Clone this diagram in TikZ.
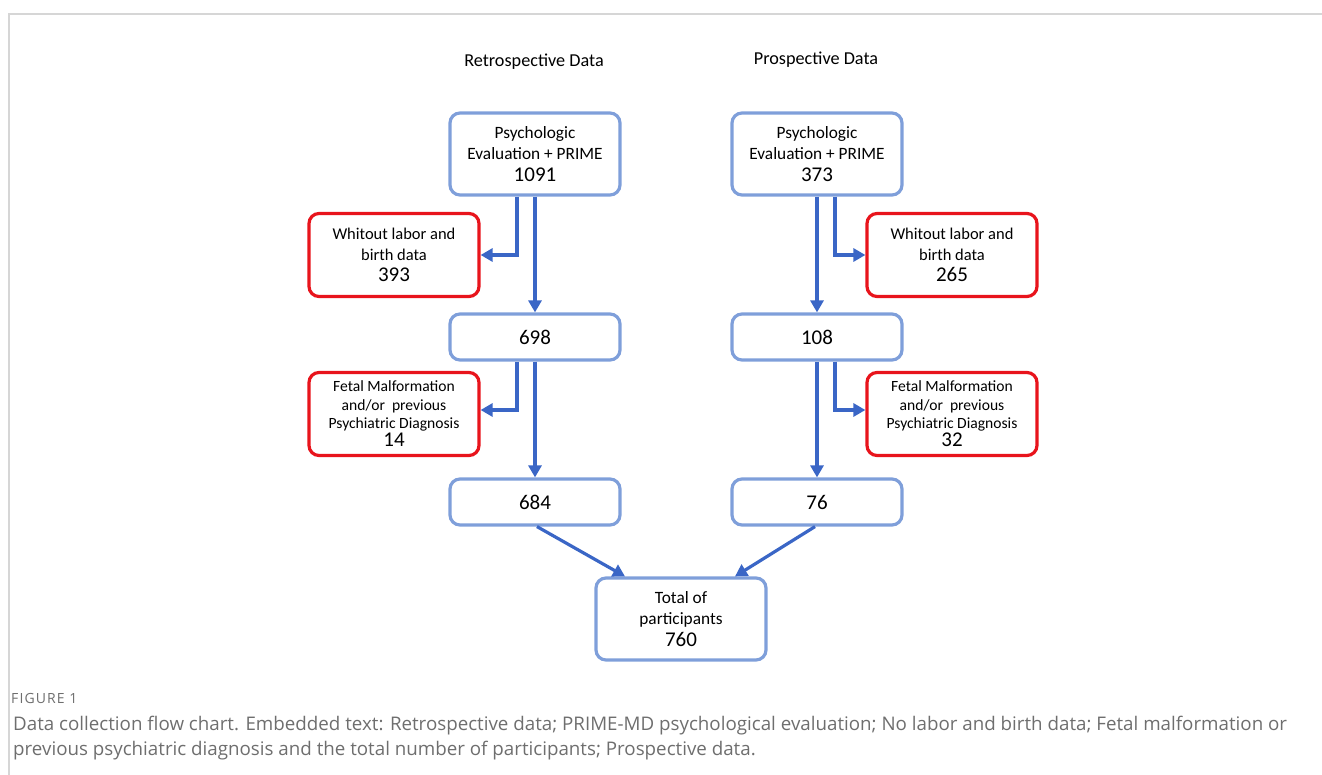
\documentclass[tikz,border=0pt]{standalone}
\usepackage{fontspec}
\setmainfont{Carlito}
\newfontfamily\capfont{Open Sans}
\usetikzlibrary{arrows.meta,positioning}
\definecolor{boxblue}{HTML}{7F9FDA}
\definecolor{boxred}{HTML}{E8141C}
\definecolor{arrowblue}{HTML}{3A66C6}
\definecolor{framegray}{HTML}{D6D6D6}
\definecolor{capgray}{HTML}{6E6E6E}
\newcommand{\numtxt}[1]{{\fontsize{21}{22}\selectfont #1}}
\tikzset{
	bluebox/.style={draw=boxblue, line width=3.2pt, rounded corners=10pt, fill=white,
		minimum width=170pt, minimum height=82pt, align=center,
		font=\fontsize{17.3}{21.5}\selectfont},
	smallbox/.style={bluebox, minimum height=46pt},
	redbox/.style={draw=boxred, line width=3.2pt, rounded corners=10pt, fill=white,
		minimum width=170pt, minimum height=83pt, align=center,
		font=\fontsize{16.5}{21}\selectfont},
	fetalbox/.style={redbox, font=\fontsize{15.6}{18.3}\selectfont},
	flow/.style={draw=arrowblue, line width=3.2pt, -{Triangle[length=12pt,width=13pt]}},
	head/.style={font=\fontsize{18.2}{20}\selectfont}
}
\begin{document}
\begin{tikzpicture}[x=1pt,y=-1pt]
	\useasboundingbox (0,0) rectangle (1322,775);
	\draw[framegray, line width=1.5pt] (9,775)--(9,14)--(1322,14);

	% column titles
	\node[head] (rethead) at (534,62){Retrospective Data};
	\node[head] (prohead) at (816,60){Prospective Data};

	% retrospective column
	\node[bluebox] (ret1) at (535,154){Psychologic\\ Evaluation + PRIME\\ \numtxt{1091}};
	\node[redbox] (retout1) at (394,255){Whitout labor and\\ birth data\\ \numtxt{393}};
	\node[smallbox] (ret2) at (535,337){\numtxt{698}};
	\node[fetalbox] (retout2) at (394,414){Fetal Malformation\\ and/or\ \ previous\\ Psychiatric Diagnosis\\ \numtxt{14}};
	\node[smallbox] (ret3) at (535,502){\numtxt{684}};

	% prospective column
	\node[bluebox] (pro1) at (817,154){Psychologic\\ Evaluation + PRIME\\ \numtxt{373}};
	\node[redbox] (proout1) at (952,255){Whitout labor and\\ birth data\\ \numtxt{265}};
	\node[smallbox] (pro2) at (817,337){\numtxt{108}};
	\node[fetalbox] (proout2) at (952,414){Fetal Malformation\\ and/or\ \ previous\\ Psychiatric Diagnosis\\ \numtxt{32}};
	\node[smallbox] (pro3) at (817,502){\numtxt{76}};

	\node[bluebox] (total) at (681,619){Total of\\ participants\\ \numtxt{760}};

	% arrows
	\draw[flow] (ret1.south)--(ret2.north);
	\draw[flow] ([xshift=-18pt]ret1.south) |- (retout1.east);
	\draw[flow] (ret2.south)--(ret3.north);
	\draw[flow] ([xshift=-18pt]ret2.south) |- ([yshift=4pt]retout2.east);
	\draw[flow] (pro1.south)--(pro2.north);
	\draw[flow] ([xshift=18pt]pro1.south) |- (proout1.west);
	\draw[flow] (pro2.south)--(pro3.north);
	\draw[flow] ([xshift=18pt]pro2.south) |- ([yshift=4pt]proout2.west);
	\draw[flow] ([xshift=2pt]ret3.south)--([xshift=-56pt]total.north);
	\draw[flow] ([xshift=-2pt]pro3.south)--([xshift=54pt]total.north);

	% caption
	\node[anchor=west, text=capgray, inner sep=0pt] (figlabel) at (11,698){\capfont\fontsize{14}{16}\selectfont\addfontfeatures{LetterSpace=8}FIGURE 1};
	\node[anchor=north west, text=capgray, inner sep=0pt, align=left,
		font=\capfont\fontsize{18.75}{24.5}\selectfont] (caption) at (13,716){Data collection flow chart. Embedded text: Retrospective data; PRIME-MD psychological evaluation; No labor and birth data; Fetal malformation or\\ previous psychiatric diagnosis and the total number of participants; Prospective data.};
\end{tikzpicture}
\end{document}
